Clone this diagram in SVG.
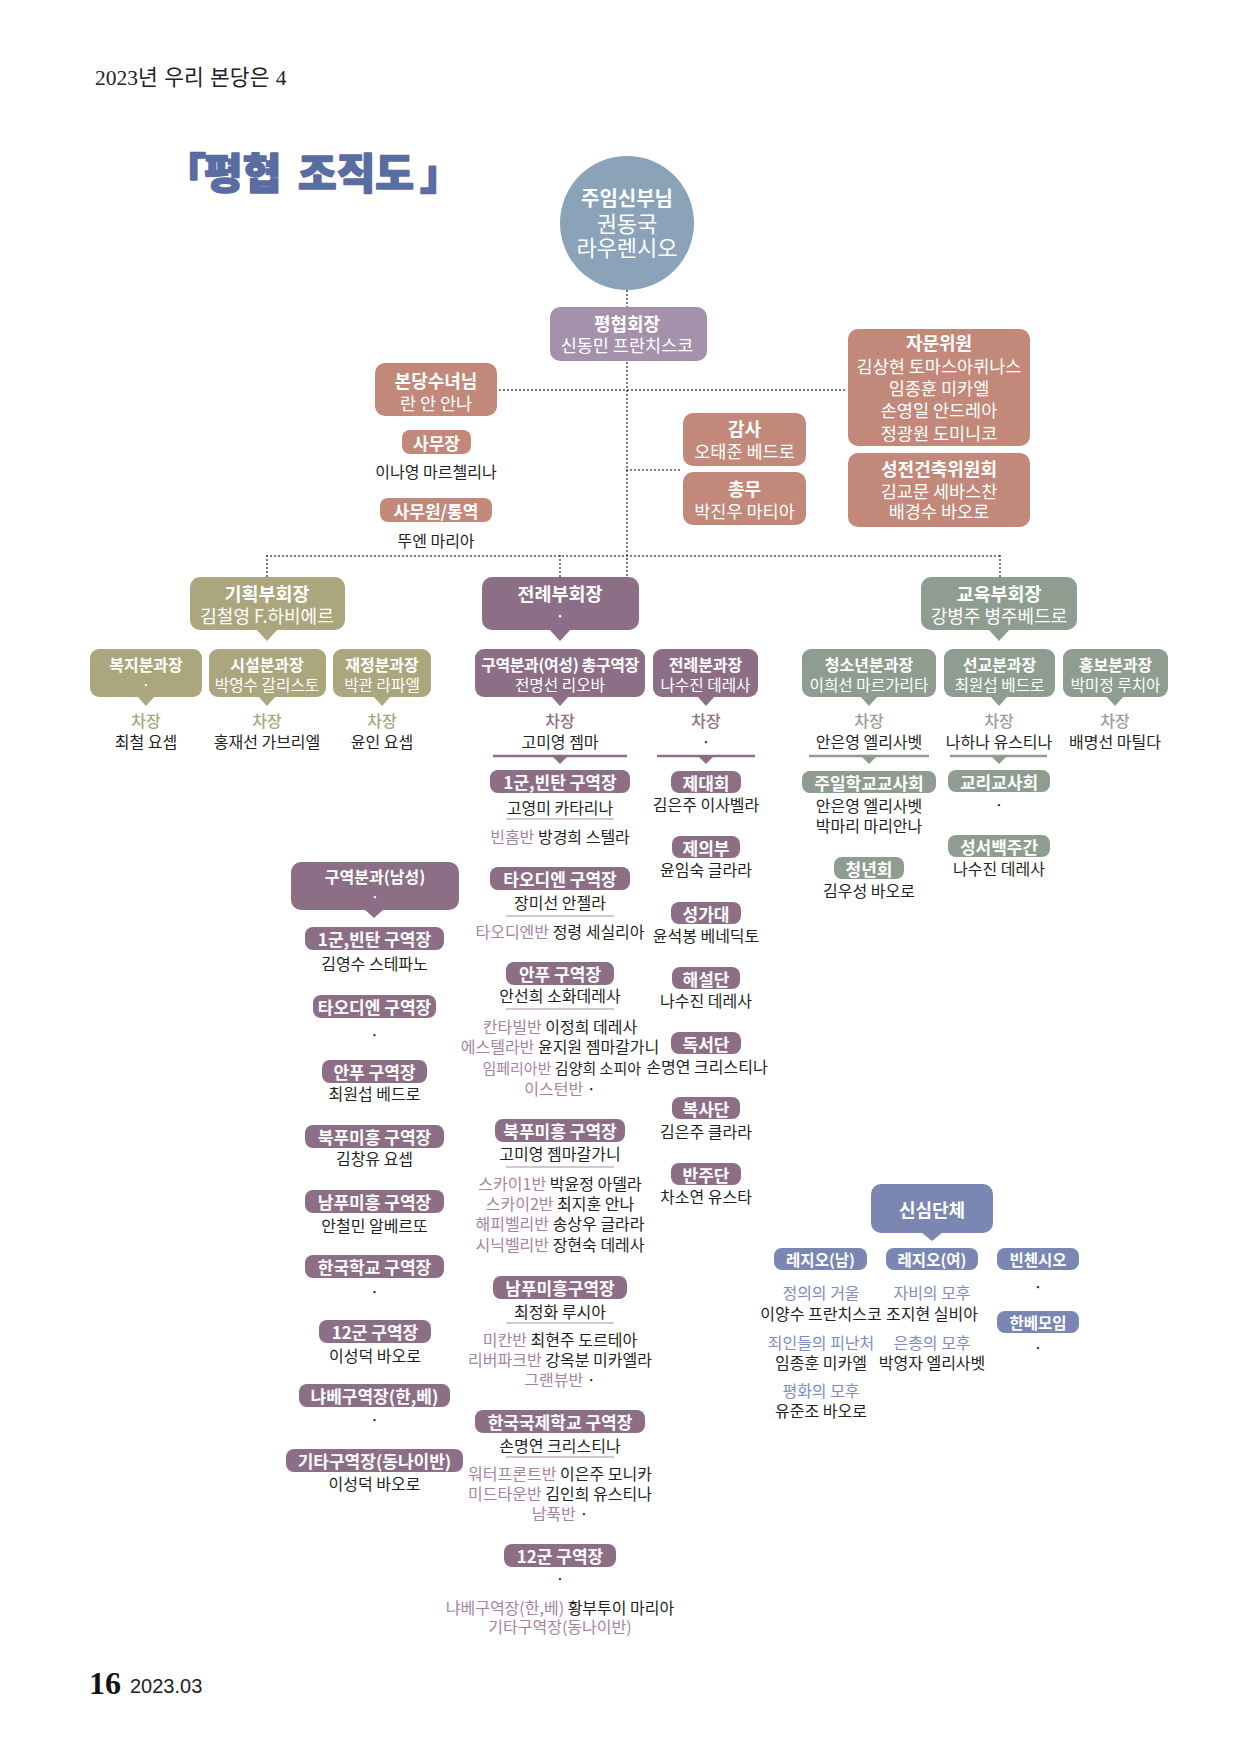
<svg xmlns="http://www.w3.org/2000/svg" width="1240" height="1754" viewBox="0 0 1240 1754">
<style>
text{font-family:"Noto Sans CJK KR","Noto Sans",sans-serif;dominant-baseline:central;text-anchor:middle}
.w{fill:#fff}
.b{font-weight:700}
.n{fill:#231f20;font-size:16px}
.pt{fill:#fff;font-weight:700;font-size:17px}
.ps{fill:#fff;font-weight:700;font-size:15.5px}
.bt{fill:#fff;font-weight:700;font-size:18px}
.bn{fill:#fff;font-size:17.5px}
.vt{fill:#fff;font-weight:700;font-size:18.5px}
.vn{fill:#fff;font-size:18px}
.rt{fill:#fff;font-weight:700;font-size:16px}
.rn{fill:#fff;font-size:15.7px}
.pm{fill:#8c6f86}
.pg{fill:#8e9d90}
.pb{fill:#7b87b3}
.po{fill:#aba67d}
.pc{fill:#c2897a}
.lm{fill:#a6839e}
.lb{fill:#7e8cc2}
.cm{fill:#8c6f86;font-size:16px;font-weight:500}
.cg{fill:#93a396;font-size:16px;font-weight:500}
.co{fill:#aba67d;font-size:16px;font-weight:500}
.dot{fill:none;stroke:#3a3a3a;stroke-width:1.8;stroke-dasharray:0 4;stroke-linecap:round}
.ul{stroke:#c7b5c2;stroke-width:1.5}
.sm{stroke:#8c6f86;stroke-width:2.5}
.sg{stroke:#8e9d90;stroke-width:2.5}
</style>

<g id="header">
<text x="95" y="78" style="text-anchor:start;font-family:'Liberation Serif','Noto Sans CJK KR',serif;font-size:21.5px;word-spacing:1px" fill="#222">2023년 우리 본당은 4</text>
</g>
<g id="title">
<text y="170" style="font-size:42px;font-weight:900;text-anchor:start" fill="#5a6da2" stroke="#5a6da2" stroke-width="1.6" stroke-linejoin="round"><tspan x="164">「</tspan><tspan x="204">평협</tspan><tspan x="298">조직도</tspan><tspan x="420">」</tspan></text>
</g>

<g id="connectors" class="dot">
<line x1="627" y1="291" x2="627" y2="576"/>
<line x1="500" y1="390" x2="846" y2="390"/>
<line x1="627" y1="470" x2="681" y2="470"/>
<line x1="267" y1="556" x2="1000" y2="556"/>
<line x1="267" y1="556" x2="267" y2="577"/>
<line x1="560" y1="556" x2="560" y2="577"/>
<line x1="1000" y1="556" x2="1000" y2="577"/>
</g>

<g id="pastor">
<circle cx="627" cy="223" r="67" fill="#8ba3b8"/>
<text x="627" y="197" class="w b" font-size="20">주임신부님</text>
<text x="627" y="222" class="w" font-size="22">권동국</text>
<text x="627" y="246" class="w" font-size="22">라우렌시오</text>
</g>

<g id="president">
<rect x="550" y="307" width="157" height="54" rx="10" fill="#a691ac"/>
<text x="627" y="323" class="bt">평협회장</text>
<text x="627" y="344" class="bn" font-size="17.8">신동민 프란치스코</text>
</g>

<g id="sister">
<rect x="375" y="363" width="122" height="53" rx="10" class="pc"/>
<text x="436" y="380" class="bt" font-size="18.5">본당수녀님</text>
<text x="436" y="402" class="bn" font-size="18">란 안 안나</text>
</g>
<g id="secretary-general">
<rect x="402" y="430" width="69" height="24" rx="8" class="pc"/>
<text x="436.5" y="442" class="pt" font-size="17.5">사무장</text>
<text x="436" y="471" class="n">이나영 마르첼리나</text>
</g>
<g id="office-staff">
<rect x="380" y="498" width="112" height="24" rx="8" class="pc"/>
<text x="436" y="510" class="pt" font-size="17.5">사무원/통역</text>
<text x="436" y="540" class="n">뚜엔 마리아</text>
</g>

<g id="auditor">
<rect x="683" y="413" width="123" height="53" rx="10" class="pc"/>
<text x="744.5" y="428" class="bt">감사</text>
<text x="744.5" y="450" class="bn">오태준 베드로</text>
</g>
<g id="general-affairs">
<rect x="683" y="472" width="123" height="53" rx="10" class="pc"/>
<text x="744.5" y="488" class="bt">총무</text>
<text x="744.5" y="510" class="bn">박진우 마티아</text>
</g>
<g id="advisors">
<rect x="848" y="329" width="182" height="117" rx="10" class="pc"/>
<text x="939" y="342" class="bt">자문위원</text>
<text x="939" y="365" class="bn" font-size="17">김상현 토마스아퀴나스</text>
<text x="939" y="387" class="bn">임종훈 미카엘</text>
<text x="939" y="409" class="bn">손영일 안드레아</text>
<text x="939" y="432" class="bn">정광원 도미니코</text>
</g>
<g id="building-committee">
<rect x="848" y="453" width="182" height="74" rx="10" class="pc"/>
<text x="939" y="468" class="bt">성전건축위원회</text>
<text x="939" y="490" class="bn">김교문 세바스찬</text>
<text x="939" y="510" class="bn">배경수 바오로</text>
</g>

<!-- vice presidents -->
<g id="vp-planning">
<rect x="190" y="577" width="155" height="53" rx="10" class="po"/>
<polygon points="256,629 278,629 267,641" class="po"/>
<text x="267" y="593" class="vt">기획부회장</text>
<text x="267" y="615" class="vn">김철영 F.하비에르</text>
</g>
<g id="vp-liturgy">
<rect x="482" y="577" width="157" height="53" rx="10" class="pm"/>
<polygon points="549,629 571,629 560,641" class="pm"/>
<text x="560" y="593" class="vt">전례부회장</text>
<text x="560" y="615" class="vn">·</text>
</g>
<g id="vp-education">
<rect x="921" y="577" width="156" height="53" rx="10" class="pg"/>
<polygon points="988,629 1010,629 999,641" class="pg"/>
<text x="999" y="593" class="vt">교육부회장</text>
<text x="999" y="615" class="vn">강병주 병주베드로</text>
</g>

<!-- row 3 departments -->
<g id="dept-welfare">
<rect x="90" y="649" width="112" height="48" rx="9" class="po"/>
<polygon points="137,696 155,696 146,706" class="po"/>
<text x="146" y="664" class="rt">복지분과장</text>
<text x="146" y="684" class="rn">·</text>
<text x="146" y="720" class="co">차장</text>
<text x="146" y="741" class="n">최철 요셉</text>
</g>
<g id="dept-facilities">
<rect x="209" y="649" width="117" height="48" rx="9" class="po"/>
<polygon points="258,696 276,696 267,706" class="po"/>
<text x="267" y="664" class="rt">시설분과장</text>
<text x="267" y="684" class="rn">박영수 갈리스토</text>
<text x="267" y="720" class="co">차장</text>
<text x="267" y="741" class="n">홍재선 가브리엘</text>
</g>
<g id="dept-finance">
<rect x="333" y="649" width="98" height="48" rx="9" class="po"/>
<polygon points="373,696 391,696 382,706" class="po"/>
<text x="382" y="664" class="rt">재정분과장</text>
<text x="382" y="684" class="rn">박관 라파엘</text>
<text x="382" y="720" class="co">차장</text>
<text x="382" y="741" class="n">윤인 요셉</text>
</g>
<g id="dept-district-women">
<rect x="475" y="649" width="170" height="48" rx="9" class="pm"/>
<polygon points="551,696 569,696 560,706" class="pm"/>
<text x="560" y="664" class="rt" font-size="14" letter-spacing="-0.4">구역분과(여성) 총구역장</text>
<text x="560" y="684" class="rn">전명선 리오바</text>
<text x="560" y="720" class="cm">차장</text>
<text x="560" y="741" class="n">고미영 젬마</text>
</g>
<g id="dept-liturgy">
<rect x="653" y="649" width="105" height="48" rx="9" class="pm"/>
<polygon points="697,696 715,696 706,706" class="pm"/>
<text x="705.5" y="664" class="rt">전례분과장</text>
<text x="705.5" y="684" class="rn">나수진 데레사</text>
<text x="706" y="720" class="cm">차장</text>
<text x="706" y="741" class="n">·</text>
</g>
<g id="dept-youth">
<rect x="802" y="649" width="134" height="48" rx="9" class="pg"/>
<polygon points="860,696 878,696 869,706" class="pg"/>
<text x="869" y="664" class="rt">청소년분과장</text>
<text x="869" y="684" class="rn">이희선 마르가리타</text>
<text x="869" y="720" class="cg">차장</text>
<text x="869" y="741" class="n">안은영 엘리사벳</text>
</g>
<g id="dept-mission">
<rect x="944" y="649" width="111" height="48" rx="9" class="pg"/>
<polygon points="990,696 1008,696 999,706" class="pg"/>
<text x="999.5" y="664" class="rt">선교분과장</text>
<text x="999.5" y="684" class="rn">최원섭 베드로</text>
<text x="999" y="720" class="cg">차장</text>
<text x="999" y="741" class="n">나하나 유스티나</text>
</g>
<g id="dept-pr">
<rect x="1063" y="649" width="105" height="48" rx="9" class="pg"/>
<polygon points="1106,696 1124,696 1115,706" class="pg"/>
<text x="1115.5" y="664" class="rt">홍보분과장</text>
<text x="1115.5" y="684" class="rn">박미정 루치아</text>
<text x="1115" y="720" class="cg">차장</text>
<text x="1115" y="741" class="n">배명선 마틸다</text>
</g>

<g id="dividers">
<line x1="493" y1="756" x2="627" y2="756" class="sm"/>
<polygon points="552,756 568,756 560,764" class="pm"/>
<line x1="657" y1="756" x2="755" y2="756" class="sm"/>
<polygon points="698,756 714,756 706,764" class="pm"/>
<line x1="809" y1="756" x2="929" y2="756" class="sg"/>
<polygon points="861,756 877,756 869,764" class="pg"/>
<line x1="950" y1="756" x2="1047" y2="756" class="sg"/>
<polygon points="991,756 1007,756 999,764" class="pg"/>
<line x1="506" y1="819" x2="614" y2="819" class="ul"/>
<line x1="506" y1="916" x2="614" y2="916" class="ul"/>
<line x1="506" y1="1009" x2="614" y2="1009" class="ul"/>
<line x1="506" y1="1167" x2="614" y2="1167" class="ul"/>
<line x1="506" y1="1323" x2="614" y2="1323" class="ul"/>
<line x1="506" y1="1457" x2="614" y2="1457" class="ul"/>
</g>

<!-- women's districts -->
<g id="w-1gun">
<rect x="490" y="770" width="140" height="23" rx="8" class="pm"/>
<text x="560" y="781.5" class="pt">1군,빈탄 구역장</text>
<text x="560" y="807" class="n">고영미 카타리나</text>
<text x="560" y="836" class="n"><tspan class="lm">빈홈반</tspan> 방경희 스텔라</text>
</g>
<g id="w-thaodien">
<rect x="490" y="867" width="140" height="23" rx="8" class="pm"/>
<text x="560" y="878.5" class="pt">타오디엔 구역장</text>
<text x="560" y="902" class="n">장미선 안젤라</text>
<text x="560" y="931" class="n"><tspan class="lm">타오디엔반</tspan> 정령 세실리아</text>
</g>
<g id="w-anphu">
<rect x="506" y="962" width="108" height="23" rx="8" class="pm"/>
<text x="560" y="973.5" class="pt">안푸 구역장</text>
<text x="560" y="995" class="n">안선희 소화데레사</text>
<text x="560" y="1026" class="n"><tspan class="lm">칸타빌반</tspan> 이정희 데레사</text>
<text x="560" y="1046" class="n"><tspan class="lm">에스텔라반</tspan> 윤지원 젬마갈가니</text>
<text x="641" y="1067" class="n" style="text-anchor:end;font-size:15px"><tspan class="lm">임페리아반</tspan> 김양희 소피아</text>
<text x="560" y="1088" class="n"><tspan class="lm">이스턴반</tspan> ·</text>
</g>
<g id="w-bacphumyhung">
<rect x="495" y="1119" width="130" height="23" rx="8" class="pm"/>
<text x="560" y="1130.5" class="pt">북푸미흥 구역장</text>
<text x="560" y="1153" class="n">고미영 젬마갈가니</text>
<text x="560" y="1183" class="n"><tspan class="lm">스카이1반</tspan> 박윤정 아델라</text>
<text x="560" y="1203" class="n"><tspan class="lm">스카이2반</tspan> 최지훈 안나</text>
<text x="560" y="1223" class="n"><tspan class="lm">해피벨리반</tspan> 송상우 글라라</text>
<text x="560" y="1244" class="n"><tspan class="lm">시닉벨리반</tspan> 장현숙 데레사</text>
</g>
<g id="w-namphumyhung">
<rect x="493" y="1276" width="134" height="23" rx="8" class="pm"/>
<text x="560" y="1287.5" class="pt">남푸미흥구역장</text>
<text x="560" y="1311" class="n">최정화 루시아</text>
<text x="560" y="1339" class="n"><tspan class="lm">미칸반</tspan> 최현주 도르테아</text>
<text x="560" y="1359" class="n"><tspan class="lm">리버파크반</tspan> 강옥분 미카엘라</text>
<text x="560" y="1379" class="n"><tspan class="lm">그랜뷰반</tspan> ·</text>
</g>
<g id="w-korean-intl-school">
<rect x="475" y="1410" width="170" height="23" rx="8" class="pm"/>
<text x="560" y="1421.5" class="pt" font-size="17.5">한국국제학교 구역장</text>
<text x="560" y="1445" class="n">손명연 크리스티나</text>
<text x="560" y="1473" class="n"><tspan class="lm">워터프론트반</tspan> 이은주 모니카</text>
<text x="560" y="1493" class="n"><tspan class="lm">미드타운반</tspan> 김인희 유스티나</text>
<text x="560" y="1513" class="n"><tspan class="lm">남푹반</tspan> ·</text>
</g>
<g id="w-12gun">
<rect x="504" y="1544" width="112" height="23" rx="8" class="pm"/>
<text x="560" y="1555.5" class="pt">12군 구역장</text>
<text x="560" y="1578" class="n">·</text>
<text x="560" y="1607" class="n"><tspan class="lm">냐베구역장(한,베)</tspan> 황부투이 마리아</text>
<text x="560" y="1626" class="n lm">기타구역장(동나이반)</text>
</g>

<!-- liturgy groups -->
<g id="l-altar"><rect x="671" y="771" width="70" height="22" rx="8" class="pm"/><text x="706" y="782" class="pt">제대회</text><text x="706" y="804" class="n">김은주 이사벨라</text></g>
<g id="l-vestment"><rect x="672" y="836" width="68" height="22" rx="8" class="pm"/><text x="706" y="847" class="pt">제의부</text><text x="706" y="869" class="n">윤임숙 글라라</text></g>
<g id="l-choir"><rect x="671" y="902" width="70" height="22" rx="8" class="pm"/><text x="706" y="913" class="pt">성가대</text><text x="706" y="935" class="n">윤석봉 베네딕토</text></g>
<g id="l-commentators"><rect x="672" y="967" width="68" height="22" rx="8" class="pm"/><text x="706" y="978" class="pt">해설단</text><text x="706" y="1000" class="n">나수진 데레사</text></g>
<g id="l-lectors"><rect x="671" y="1032" width="70" height="22" rx="8" class="pm"/><text x="706" y="1043" class="pt">독서단</text><text x="707" y="1066" class="n">손명연 크리스티나</text></g>
<g id="l-altarservers"><rect x="672" y="1097" width="68" height="22" rx="8" class="pm"/><text x="706" y="1108" class="pt">복사단</text><text x="706" y="1131" class="n">김은주 클라라</text></g>
<g id="l-organists"><rect x="671" y="1163" width="70" height="22" rx="8" class="pm"/><text x="706" y="1174" class="pt">반주단</text><text x="706" y="1196" class="n">차소연 유스타</text></g>

<!-- education groups -->
<g id="e-sundayschool"><rect x="802" y="771" width="134" height="22" rx="8" class="pg"/><text x="869" y="782" class="pt">주일학교교사회</text><text x="869" y="805" class="n">안은영 엘리사벳</text><text x="869" y="825" class="n">박마리 마리안나</text></g>
<g id="e-youngadults"><rect x="834" y="857" width="70" height="22" rx="8" class="pg"/><text x="869" y="868" class="pt">청년회</text><text x="869" y="890" class="n">김우성 바오로</text></g>
<g id="e-catechists"><rect x="948" y="770" width="102" height="22" rx="8" class="pg"/><text x="999" y="781" class="pt">교리교사회</text><text x="999" y="804" class="n">·</text></g>
<g id="e-bible100"><rect x="948" y="835" width="102" height="22" rx="8" class="pg"/><text x="999" y="846" class="pt">성서백주간</text><text x="999" y="868" class="n">나수진 데레사</text></g>

<!-- men's districts -->
<g id="dept-district-men">
<rect x="291" y="862" width="168" height="48" rx="10" class="pm"/>
<polygon points="364,909 384,909 374,918" class="pm"/>
<text x="375" y="876" class="rt" font-size="17">구역분과(남성)</text>
<text x="375" y="896" class="rn">·</text>
</g>
<g id="m-1gun"><rect x="305" y="927" width="139" height="23" rx="8" class="pm"/><text x="374.5" y="938.5" class="pt">1군,빈탄 구역장</text><text x="374.5" y="963" class="n">김영수 스테파노</text></g>
<g id="m-thaodien"><rect x="313" y="995" width="123" height="23" rx="8" class="pm"/><text x="374.5" y="1006.5" class="pt">타오디엔 구역장</text><text x="374.5" y="1034" class="n">·</text></g>
<g id="m-anphu"><rect x="322" y="1060" width="105" height="23" rx="8" class="pm"/><text x="374.5" y="1071.5" class="pt">안푸 구역장</text><text x="374.5" y="1093" class="n">최원섭 베드로</text></g>
<g id="m-bacphumyhung"><rect x="305" y="1125" width="139" height="23" rx="8" class="pm"/><text x="374.5" y="1136.5" class="pt">북푸미흥 구역장</text><text x="374.5" y="1158" class="n">김창유 요셉</text></g>
<g id="m-namphumyhung"><rect x="305" y="1190" width="139" height="23" rx="8" class="pm"/><text x="374.5" y="1201.5" class="pt">남푸미흥 구역장</text><text x="374.5" y="1225" class="n">안철민 알베르또</text></g>
<g id="m-koreanschool"><rect x="305" y="1255" width="139" height="23" rx="8" class="pm"/><text x="374.5" y="1266.5" class="pt">한국학교 구역장</text><text x="374.5" y="1291" class="n">·</text></g>
<g id="m-12gun"><rect x="319" y="1320" width="112" height="23" rx="8" class="pm"/><text x="375" y="1331.5" class="pt">12군 구역장</text><text x="375" y="1355" class="n">이성덕 바오로</text></g>
<g id="m-nhabe"><rect x="299" y="1384" width="151" height="23" rx="8" class="pm"/><text x="374.5" y="1395.5" class="pt">냐베구역장(한,베)</text><text x="374.5" y="1419" class="n">·</text></g>
<g id="m-others"><rect x="286" y="1449" width="177" height="23" rx="8" class="pm"/><text x="374.5" y="1460.5" class="pt">기타구역장(동나이반)</text><text x="374.5" y="1483" class="n">이성덕 바오로</text></g>

<!-- devotional groups -->
<g id="devotional">
<rect x="871" y="1184" width="122" height="49" rx="10" class="pb"/>
<polygon points="921,1232 943,1232 932,1241" class="pb"/>
<text x="932" y="1209" class="bt">신심단체</text>
</g>
<g id="legio-men">
<rect x="774" y="1248" width="93" height="22" rx="8" class="pb"/>
<text x="820.5" y="1259" class="ps">레지오(남)</text>
<text x="821" y="1292" class="n lb">정의의 거울</text>
<text x="821" y="1313" class="n">이양수 프란치스코</text>
<text x="821" y="1342" class="n lb">죄인들의 피난처</text>
<text x="821" y="1362" class="n">임종훈 미카엘</text>
<text x="821" y="1390" class="n lb">평화의 모후</text>
<text x="821" y="1410" class="n">유준조 바오로</text>
</g>
<g id="legio-women">
<rect x="886" y="1248" width="92" height="22" rx="8" class="pb"/>
<text x="932" y="1259" class="ps">레지오(여)</text>
<text x="932" y="1292" class="n lb">자비의 모후</text>
<text x="932" y="1313" class="n">조지현 실비아</text>
<text x="932" y="1342" class="n lb">은총의 모후</text>
<text x="932" y="1362" class="n">박영자 엘리사벳</text>
</g>
<g id="vincent">
<rect x="997" y="1248" width="82" height="22" rx="8" class="pb"/>
<text x="1038" y="1259" class="ps">빈첸시오</text>
<text x="1038" y="1286" class="n">·</text>
</g>
<g id="hanbe">
<rect x="997" y="1311" width="82" height="22" rx="8" class="pb"/>
<text x="1038" y="1322" class="ps">한베모임</text>
<text x="1038" y="1347" class="n">·</text>
</g>

<g id="footer">
<text x="89" y="1694" style="font-family:'Liberation Serif',serif;font-weight:700;font-size:32px;text-anchor:start;dominant-baseline:auto" fill="#111">16</text>
<text x="130" y="1693" style="font-family:'Liberation Sans',sans-serif;font-size:20px;text-anchor:start;dominant-baseline:auto" fill="#222">2023.03</text>
</g>
</svg>
